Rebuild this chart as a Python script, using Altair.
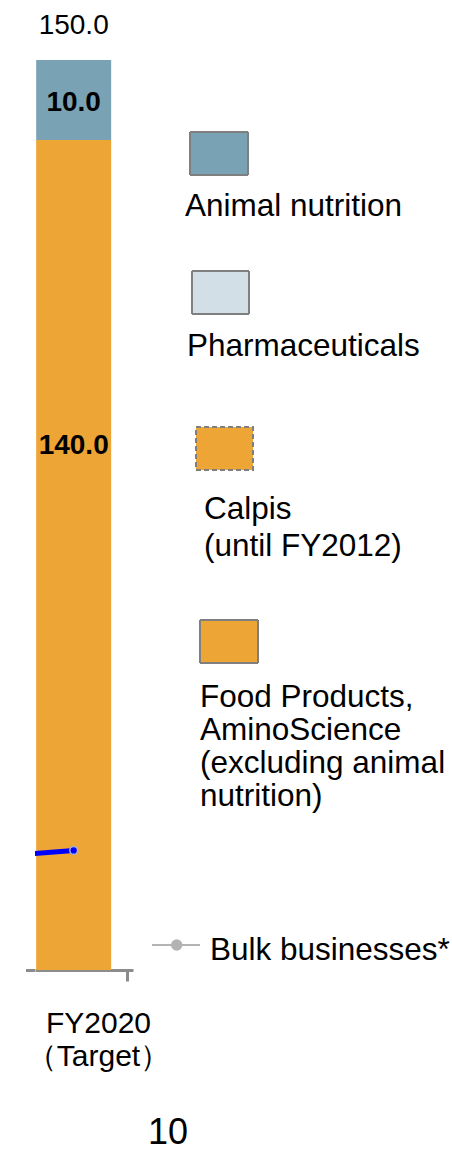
import altair as alt
import pandas as pd

# ---------------- data ----------------
period_label = ["FY2020", "（Target）"]
segments = ["Food Products, AminoScience (excluding animal nutrition)", "Animal nutrition"]
segment_values = [140.0, 10.0]
segment_colors = ["#EDA535", "#79A3B4"]

# Bulk businesses* line (previous period point lies left of the visible area)
bulk_pos = [-1, 0]
bulk_values = [50.3, 51.2]

legend_labels = [
    "Animal nutrition",
    "Pharmaceuticals",
    "Calpis\n(until FY2012)",
    "Food Products,\nAminoScience\n(excluding animal\nnutrition)",
]
legend_fills = ["#79A3B4", "#D3DFE6", "#EDA535", "#EDA535"]
bulk_label = "Bulk businesses*"
page_number = "10"

# ---------------- tables ----------------
ends = pd.Series(segment_values).cumsum()
df_bar = pd.DataFrame({
    "x": [0] * len(segments),
    "segment": segments,
    "value": segment_values,
    "start": ends - pd.Series(segment_values),
    "end": ends,
})
df_total = pd.DataFrame({"x": [0], "total": [sum(segment_values)]})
df_bulk = pd.DataFrame({"x": bulk_pos, "bulk": bulk_values})

FONT = "Liberation Sans"
xs = alt.Scale(domain=[-0.375, 0.605], nice=False, zero=False)
ys = alt.Scale(domain=[36.25, 150], nice=False, zero=False)

x_axis = alt.Axis(
    title=period_label, titleX=63, titleY=62, titleBaseline="alphabetic",
    titleAlign="center", titleAnchor="middle", titleFontSize=30, titleFontWeight="normal",
    titleColor="black", titleLineHeight=33, titleFont=FONT,
    values=[0.593], labels=False, grid=False,
    domainColor="#8C8C8C", domainWidth=3, tickColor="#8C8C8C", tickWidth=3, tickSize=11,
)

X_plain = alt.X("x:Q", scale=xs)

bars = alt.Chart(df_bar).mark_bar(size=75, clip=True).encode(
    x=alt.X("x:Q", scale=xs, axis=x_axis),
    y=alt.Y("start:Q", scale=ys, axis=None),
    y2="end:Q",
    color=alt.Color("segment:N", scale=alt.Scale(domain=segments, range=segment_colors), legend=None),
)

total_lbl = alt.Chart(df_total).mark_text(
    dy=-26, fontSize=28, baseline="alphabetic", font=FONT, color="black"
).encode(x=X_plain, y=alt.Y("total:Q", scale=ys, axis=None), text=alt.Text("total:Q", format=".1f"))

lbl_top = alt.Chart(df_bar).transform_filter(
    alt.datum.segment == segments[1]
).mark_text(dy=51, fontSize=28, fontWeight="bold", baseline="alphabetic", font=FONT, color="black").encode(
    x=X_plain, y=alt.Y("end:Q", scale=ys, axis=None), text=alt.Text("value:Q", format=".1f"))

lbl_bottom = alt.Chart(df_bar).transform_filter(
    alt.datum.segment == segments[0]
).mark_text(dy=314, fontSize=28, fontWeight="bold", baseline="alphabetic", font=FONT, color="black").encode(
    x=X_plain, y=alt.Y("end:Q", scale=ys, axis=None), text=alt.Text("value:Q", format=".1f"))

bulk_line = alt.Chart(df_bulk).mark_line(color="#0000FF", strokeWidth=5, clip=True).encode(
    x=X_plain, y=alt.Y("bulk:Q", scale=ys, axis=None))
bulk_dot = alt.Chart(df_bulk).mark_point(
    filled=True, shape="circle", size=60, fill="#0000FF", stroke="#A8B0D8", strokeWidth=1.5,
    opacity=1, clip=True
).encode(x=X_plain, y=alt.Y("bulk:Q", scale=ys, axis=None))

# axis line extension to the left of the plot
axis_ext = alt.Chart(pd.DataFrame({"a": [0]})).mark_rule(color="#8C8C8C", strokeWidth=3).encode(
    x=alt.value(-9), x2=alt.value(0), y=alt.value(910.5))

# ---------------- legend ----------------
sw_boxes = [(155, 213, 72, 115), (157, 214, 211, 254), (161, 218, 367, 410), (165, 223, 560, 603)]
txt_pos = [(150, 156, 33), (152, 296, 33), (169, 459, 37), (165, 647, 33)]
legend_layers = []
for i, lab in enumerate(legend_labels):
    x0, x1, y0, y1 = sw_boxes[i]
    dash = [5, 3] if i == 2 else [1, 0]
    legend_layers.append(
        alt.Chart(pd.DataFrame({"label": [lab]})).mark_rect(
            fill=legend_fills[i], stroke="#7F7F7F", strokeWidth=2, strokeDash=dash
        ).encode(x=alt.value(x0), x2=alt.value(x1), y=alt.value(y0), y2=alt.value(y1))
    )
    tx, ty, lh = txt_pos[i]
    legend_layers.append(
        alt.Chart(pd.DataFrame({"label": [lab]})).mark_text(
            align="left", baseline="alphabetic", fontSize=31.5, font=FONT, color="black",
            lineBreak="\n", lineHeight=lh
        ).encode(x=alt.value(tx), y=alt.value(ty), text="label:N")
    )

bulk_leg_line = alt.Chart(pd.DataFrame({"label": [bulk_label]})).mark_rule(
    color="#B3B3B3", strokeWidth=2).encode(x=alt.value(117), x2=alt.value(165), y=alt.value(885))
bulk_leg_dot = alt.Chart(pd.DataFrame({"label": [bulk_label]})).mark_circle(
    color="#B3B3B3", size=130, opacity=1).encode(x=alt.value(141.7), y=alt.value(885))
bulk_leg_txt = alt.Chart(pd.DataFrame({"label": [bulk_label]})).mark_text(
    align="left", baseline="alphabetic", fontSize=31.5, font=FONT, color="black"
).encode(x=alt.value(175), y=alt.value(900), text="label:N")

page_txt = alt.Chart(pd.DataFrame({"p": [page_number]})).mark_text(
    align="center", baseline="alphabetic", fontSize=36, font=FONT, color="black"
).encode(x=alt.value(133), y=alt.value(1084), text="p:N")

chart = alt.layer(
    bars, axis_ext, bulk_line, bulk_dot, total_lbl, lbl_top, lbl_bottom,
    *legend_layers, bulk_leg_line, bulk_leg_dot, bulk_leg_txt, page_txt
).properties(
    width=98, height=910,
    padding={"left": 35, "top": 60, "right": 319, "bottom": 181},
    autosize=alt.AutoSizeParams(type="none"),
).configure(font=FONT, background="white").configure_view(stroke=None)

chart.save("out.html", embed_options={"renderer": "svg", "actions": False})
